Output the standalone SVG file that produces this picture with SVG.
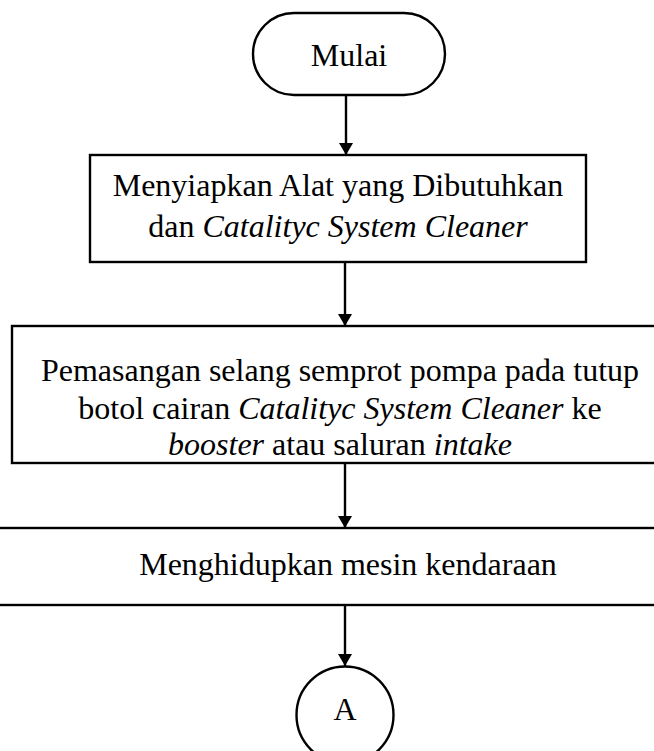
<svg xmlns="http://www.w3.org/2000/svg" width="654" height="751" viewBox="0 0 654 751">
<style>
.s{fill:#fff;stroke:#000;stroke-width:2.4}
.t{font-family:"Liberation Serif","Times New Roman",serif;font-size:32px;fill:#000;text-anchor:middle}
.i{font-style:italic}
.c{stroke:#000;stroke-width:2.4;fill:none}
</style>
<defs>
<marker id="ah" markerWidth="12" markerHeight="14" refX="12" refY="7" orient="auto" markerUnits="userSpaceOnUse" viewBox="0 0 12 14">
<path d="M0,0 L12,7 L0,14 Z" fill="#000"/>
</marker>
</defs>
<g id="connectors">
<line class="c" x1="346" y1="95" x2="346" y2="155" marker-end="url(#ah)"/>
<line class="c" x1="345" y1="262" x2="345" y2="326" marker-end="url(#ah)"/>
<line class="c" x1="345" y1="463" x2="345" y2="528" marker-end="url(#ah)"/>
<line class="c" x1="345" y1="605" x2="345" y2="666" marker-end="url(#ah)"/>
</g>
<g id="start">
<rect class="s" x="253" y="13" width="192" height="82" rx="41" ry="41"/>
<text class="t" x="349" y="66">Mulai</text>
</g>
<g id="step1">
<rect class="s" x="90" y="155" width="496" height="107"/>
<text class="t" x="338" y="196">Menyiapkan Alat yang Dibutuhkan</text>
<text class="t" x="338" y="237">dan <tspan class="i">Catalityc System Cleaner</tspan></text>
</g>
<g id="step2">
<rect class="s" x="12" y="326" width="670" height="137"/>
<text class="t" x="340" y="381">Pemasangan selang semprot pompa pada tutup</text>
<text class="t" x="340" y="419">botol cairan <tspan class="i">Catalityc System Cleaner</tspan> ke</text>
<text class="t" x="340" y="455"><tspan class="i">booster</tspan> atau saluran <tspan class="i">intake</tspan></text>
</g>
<g id="step3">
<rect class="s" x="-10" y="528" width="674" height="77"/>
<text class="t" x="348" y="575">Menghidupkan mesin kendaraan</text>
</g>
<g id="connector-a">
<circle class="s" cx="345" cy="715" r="48.5"/>
<text class="t" x="345" y="720">A</text>
</g>
</svg>
